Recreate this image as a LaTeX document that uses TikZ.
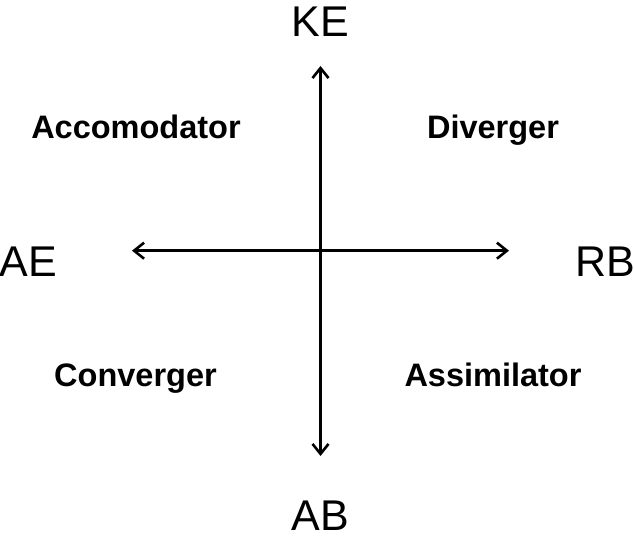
\documentclass[tikz,border=0pt]{standalone}
\usepackage{fontspec}
\setmainfont{Liberation Sans}
\usetikzlibrary{arrows.meta}
\begin{document}
\begin{tikzpicture}[x=1pt,y=1pt,
  axislabel/.style={inner sep=0pt,anchor=base,font=\fontsize{43}{43}\selectfont},
  quadlabel/.style={inner sep=0pt,anchor=base,font=\fontsize{32.5}{32.5}\selectfont\bfseries},
  axisarrow/.style={line width=2.6pt,-{Straight Barb[length=10pt,width=16pt,line width=2.6pt]}}]
\useasboundingbox (0,0) rectangle (634,537);
% axis end points
\coordinate (top) at (320.5,537-66);
\coordinate (bottom) at (320.5,537-456);
\coordinate (left) at (132,537-250.7);
\coordinate (right) at (509,537-250.7);
\coordinate (centre) at (320.5,537-250.7);
\draw[axisarrow] (centre) -- (top);
\draw[axisarrow] (centre) -- (bottom);
\draw[axisarrow] (centre) -- (left);
\draw[axisarrow] (centre) -- (right);
% axis labels
\node[axislabel] (ke) at (320,537-37) {KE};
\node[axislabel] (ab) at (320,537-531) {AB};
\node[axislabel] (ae) at (28.5,537-277) {AE};
\node[axislabel] (rb) at (605,537-277) {RB};
% quadrant labels
\node[quadlabel] (acc) at (136,537-139) {Accomodator};
\node[quadlabel] (div) at (493,537-139) {Diverger};
\node[quadlabel] (con) at (135.5,537-387) {Converger};
\node[quadlabel] (ass) at (493,537-387) {Assimilator};
\end{tikzpicture}
\end{document}
